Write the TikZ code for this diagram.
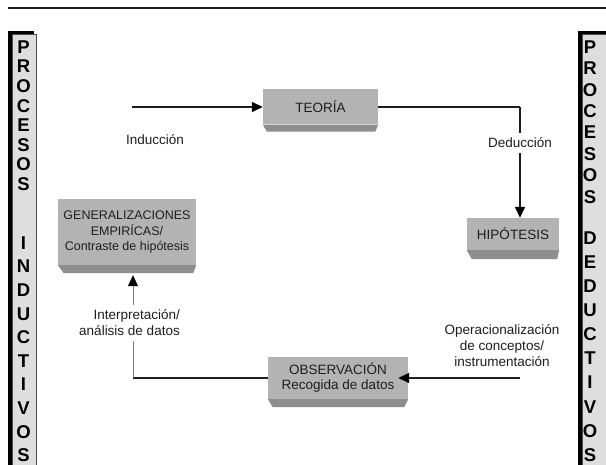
\documentclass[tikz,border=0pt]{standalone}
\usepackage{fontspec}
\setmainfont{Liberation Sans}
\usetikzlibrary{arrows.meta}
\definecolor{face}{HTML}{B3B3B3}
\definecolor{bevel}{HTML}{8E8E8E}
\definecolor{barfill}{HTML}{DEDEDE}
\definecolor{ink}{HTML}{1E1E1E}
\begin{document}
\begin{tikzpicture}[x=1pt,y=-1pt,
  box/.style={fill=face, inner sep=0pt, text=ink, font=\fontsize{13.5}{15}\selectfont, align=center},
  bev/.style={fill=bevel},
  conn/.style={line width=1.4pt, draw=ink},
  arr/.style={conn, -{Triangle[length=11pt,width=10pt,color=black]}},
  thinconn/.style={line width=0.8pt, draw=gray},
  lbl/.style={fill=white, inner xsep=2pt, inner ysep=5pt, text=ink, font=\fontsize{13.5}{16}\selectfont, align=center},
  barletter/.style={font=\bfseries\fontsize{18.5}{18}\selectfont, text=black, inner sep=0pt}]
\useasboundingbox (0,0) rectangle (606,465);
\fill[white] (0,0) rectangle (606,465);
% top rule
\draw[line width=2pt, draw=ink] (8,8) -- (606,8);
% left bar
\fill[black] (8,31) rectangle (34,470);
\filldraw[fill=barfill, draw=gray!60!black, line width=0.8pt] (12,34) rectangle (36,470);
\foreach \l [count=\i] in {P,R,O,C,E,S,O,S}
  \node[barletter] (lp\i) at (23.5,{47+(\i-1)*19.6}) {\l};
\foreach \l [count=\i] in {I,N,D,U,C,T,I,V,O,S}
  \node[barletter] (li\i) at (23.5,{243+(\i-1)*23.6}) {\l};
% right bar
\fill[black] (578,31) rectangle (610,470);
\filldraw[fill=barfill, draw=gray!60!black, line width=0.8pt] (582,34) rectangle (612,470);
\foreach \l [count=\i] in {P,R,O,C,E,S,O,S}
  \node[barletter] (rp\i) at (590,{47+(\i-1)*21.4}) {\l};
\foreach \l [count=\i] in {D,E,D,U,C,T,I,V,O,S}
  \node[barletter] (rd\i) at (590,{238+(\i-1)*24.1}) {\l};
% boxes
\node[box, minimum width=115pt, minimum height=35pt] (teo) at (320.5,107) {TEORÍA};
\fill[bev] (teo.south west) -- (teo.south east) -- ([xshift=-3pt,yshift=-7pt]teo.south east) -- ([xshift=4pt,yshift=-7pt]teo.south west) -- cycle;
\node[box, minimum width=92pt, minimum height=32pt] (hip) at (513,234) {HIPÓTESIS};
\fill[bev] (hip.south west) -- (hip.south east) -- ([xshift=-2pt,yshift=-9pt]hip.south east) -- ([xshift=5pt,yshift=-9pt]hip.south west) -- cycle;
\node[box, minimum width=138pt, minimum height=66pt, font=\fontsize{12.5}{15.5}\selectfont] (gen) at (127,232) {GENERALIZACIONES\\EMPIRÍCAS/\\Contraste de hipótesis};
\fill[bev] (gen.south west) -- (gen.south east) -- ([xshift=-3pt,yshift=-8pt]gen.south east) -- ([xshift=6pt,yshift=-8pt]gen.south west) -- cycle;
\node[box, minimum width=140pt, minimum height=42pt] (obs) at (338,378) {OBSERVACIÓN\\Recogida de datos};
\fill[bev] (obs.south west) -- (obs.south east) -- ([xshift=-4pt,yshift=-8pt]obs.south east) -- ([xshift=5pt,yshift=-8pt]obs.south west) -- cycle;
% connectors
\coordinate (indstart) at (132,107);
\draw[arr] (indstart) -- (teo.west);
\coordinate (dedcorner) at (520,107);
\draw[conn] (teo.east) -- (dedcorner);
\draw[arr] (dedcorner) -- (dedcorner |- hip.north);
\coordinate (obsin) at (520,378);
\draw[arr] (obsin) -- ([xshift=-10pt]obs.east);
\coordinate (leftcorner) at (133,378);
\coordinate (gentip) at ([yshift=-10pt]gen.south);
\draw[conn] (obs.west) -- (leftcorner);
\draw[thinconn, -{Triangle[length=11pt,width=10pt,color=black]}] (leftcorner) -- (leftcorner |- gentip);
% labels
\node[lbl, fill=none] (ind) at (155,140) {Inducción};
\node[lbl] (ded) at (520,143) {Deducción};
\node[lbl, fill=none] (op) at (502,346) {Operacionalización\\de conceptos/\\instrumentación};
\node[lbl, align=right, anchor=east] (interp) at (182,323) {Interpretación/\\análisis de datos};
\end{tikzpicture}
\end{document}
